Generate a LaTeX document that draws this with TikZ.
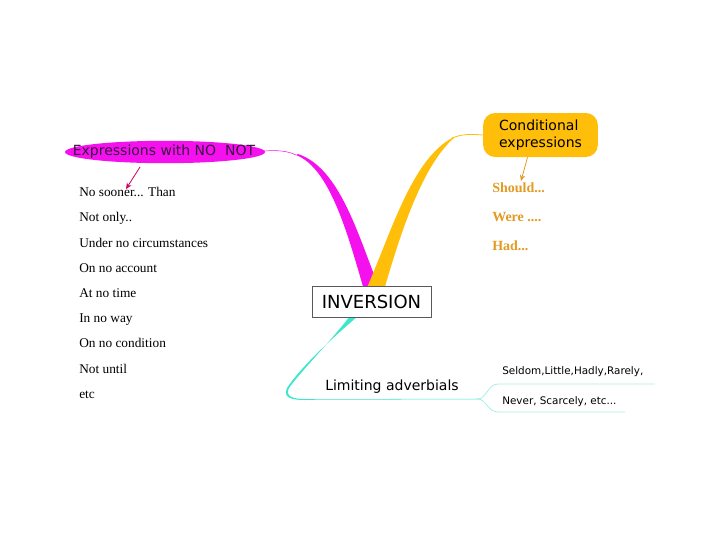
\documentclass[tikz,border=0pt]{standalone}
\usepackage{fontspec}
\setmainfont{Liberation Serif}
\setsansfont{DejaVu Sans}
\usetikzlibrary{arrows.meta,positioning}
\definecolor{branchpink}{HTML}{F511EE}
\definecolor{branchgold}{HTML}{FFBE0A}
\definecolor{branchteal}{HTML}{3EE6CC}
\definecolor{lightteal}{HTML}{A8EEE4}
\definecolor{textgold}{HTML}{E39A22}
\definecolor{darkplum}{HTML}{3A1242}

\begin{document}
\begin{tikzpicture}[x=0.75pt, y=-0.75pt,
    topic/.style={font=\sffamily, inner sep=0pt},
    item/.style={anchor=base west, font=\fontsize{10}{12}\selectfont, inner sep=0pt},
    gold/.style={anchor=base west, font=\fontsize{10.5}{12}\selectfont\bfseries, text=textgold, inner sep=0pt},
    small/.style={anchor=west, font=\sffamily\fontsize{7.8}{9}\selectfont, inner sep=0pt},
    pointer/.style={-{Stealth[length=1.6mm, width=1.4mm]}, semithick}
]
\useasboundingbox (0,0) rectangle (720,540);

% --- branches ---
\coordinate (pk) at (296,155);
\coordinate (gd) at (452,138);
\fill[branchpink] (364,290) .. controls (348,235) and (330,168) .. (pk)
    -- (298,154) .. controls (340,168) and (358,235) .. (380,290) -- cycle;
\fill[branchgold] (366,290) .. controls (392,230) and (412,160) .. (gd)
    -- (455,137) .. controls (422,165) and (400,235) .. (384,290) -- cycle;
\coordinate (tl) at (358,316);
\coordinate (fork) at (478,399);
\fill[branchteal] (350,316) .. controls (330,342) and (302,370) .. (289,388)
    .. controls (285,396) and (292,399) .. (305,399) -- (305,400)
    .. controls (290,400) and (283,397) .. (287,388)
    .. controls (300,368) and (330,340) .. (tl) -- cycle;
\draw[branchteal, thin] (305,399.5) -- (fork);

% --- main topic ---
\node[draw=gray!70!black, fill=white, minimum width=89.25pt, minimum height=23.25pt,
      font=\sffamily\fontsize{13.5}{15}\selectfont, inner sep=0pt] (inv) at (371.5,301.5) {INVERSION};

% --- branch topics ---
\fill[branchpink] (165,152) ellipse [x radius=75pt, y radius=8.4pt];
\coordinate (pkstart) at (264,151);
\node[topic, font=\sffamily\fontsize{10.5}{12}\selectfont, text=darkplum] (nonot) at (164,152) {Expressions with NO\ \ NOT};
\node[fill=branchgold, rounded corners=9pt, minimum width=86pt, minimum height=33pt, inner sep=0pt,
      align=left, font=\sffamily\fontsize{10.5}{12.5}\selectfont] (cond) at (540.5,135) {Conditional\\expressions};
\node[topic, font=\sffamily\fontsize{10.5}{12}\selectfont, anchor=west] (limit) at (325,387) {Limiting adverbials};

\draw[branchpink, thin] (pkstart) .. controls (278,150) and (288,151) .. (pk);
\draw[branchgold, semithick] (gd) .. controls (462,134) and (470,134) .. (cond.west);

% --- sub branches ---
\draw[lightteal, semithick] (fork) .. controls (486,399) and (488,384) .. (498,384) -- (655,384);
\draw[lightteal, semithick] (fork) .. controls (486,399) and (488,412) .. (498,412) -- (625,412);
\node[small] (sel) at (502,372) {Seldom,Little,Hadly,Rarely,};
\node[small] (nev) at (502,402) {Never, Scarcely, etc...};

% --- pointers ---
\coordinate (pkend) at (126,189);
\coordinate (gdend) at (521,181);
\draw[pointer, color=purple!80!magenta] (140,167) -- (pkend);
\draw[pointer, color=textgold] (cond.south) ++(-13,0) coordinate (gdstart) (gdstart) -- (gdend);

% --- lists ---
\node[item] (n1) at (79,196) {No sooner... Than};
\node[item] (n2) at (79,221) {Not only..};
\node[item] (n3) at (79,247) {Under no circumstances};
\node[item] (n4) at (79,272) {On no account};
\node[item] (n5) at (79,297) {At no time};
\node[item] (n6) at (79,322) {In no way};
\node[item] (n7) at (79,347) {On no condition};
\node[item] (n8) at (79,373) {Not until};
\node[item] (n9) at (79,398) {etc};

\node[gold] (c1) at (492,192) {Should...};
\node[gold] (c2) at (492,221) {Were ....};
\node[gold] (c3) at (492,250) {Had...};

\end{tikzpicture}
\end{document}
